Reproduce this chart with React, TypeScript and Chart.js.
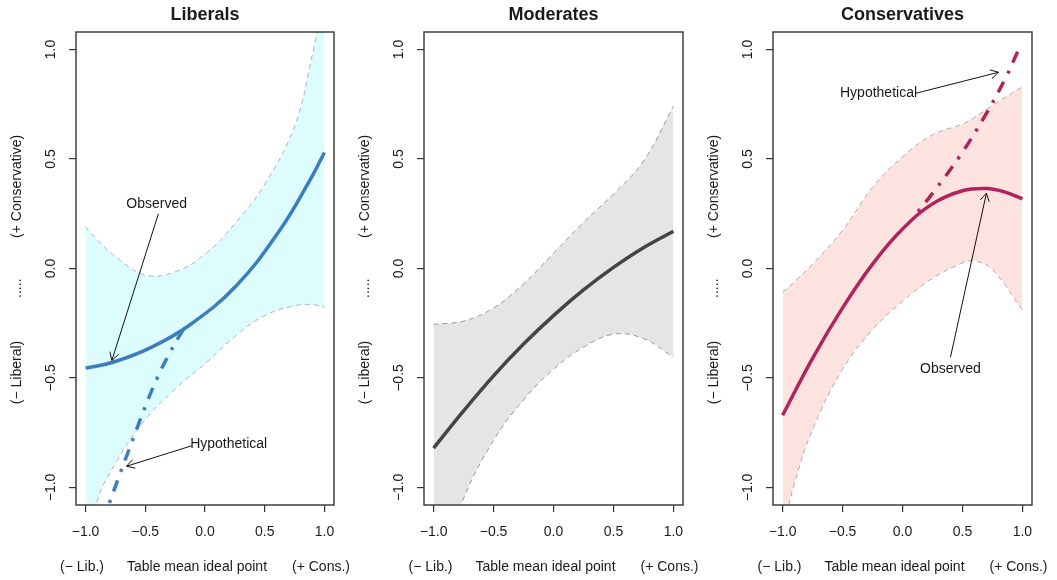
import React, { useEffect, useRef } from "react";
import { Chart, registerables } from "chart.js";

Chart.register(...registerables);

// ---------- axis / labels ----------
const tickValues = [-1, -0.5, 0, 0.5, 1];
const tickLabels = ["−1.0", "−0.5", "0.0", "0.5", "1.0"];
const panelTitles = ["Liberals", "Moderates", "Conservatives"];
const yTitleParts = ["(+ Conservative)", ".....", "(− Liberal)"];
const xTitleParts = ["(− Lib.)", "Table mean ideal point", "(+ Cons.)"];

// ---------- Liberals ----------
const libBandX = [-1, -0.9, -0.75, -0.5, -0.25, 0, 0.25, 0.5, 0.75, 0.9, 1];
const libUpper = [0.19, 0.13, 0.055, -0.03, -0.015, 0.065, 0.205, 0.385, 0.65, 0.98, 1.25];
const libLower = [-1.35, -1.06, -0.89, -0.69, -0.55, -0.435, -0.31, -0.215, -0.17, -0.165, -0.177];
const libObsX = [-1, -0.77, -0.45, -0.128, 0.26, 0.62, 0.875, 1];
const libObs = [-0.455, -0.428, -0.36, -0.258, -0.08, 0.17, 0.4, 0.53];
const libHypX = [-0.8, -0.7, -0.6, -0.5, -0.4, -0.3, -0.2, -0.15];
const libHyp = [-1.07, -0.92, -0.775, -0.63, -0.5, -0.39, -0.295, -0.255];

// ---------- Moderates ----------
const modX = [-1, -0.75, -0.5, -0.25, 0, 0.25, 0.5, 0.75, 1];
const modObs = [-0.82, -0.65, -0.49, -0.345, -0.215, -0.098, 0.005, 0.095, 0.17];
const modUpper = [-0.255, -0.24, -0.18, -0.07, 0.07, 0.21, 0.34, 0.49, 0.74];
const modLower = [-1.45, -1.05, -0.785, -0.6, -0.46, -0.36, -0.3, -0.32, -0.405];

// ---------- Conservatives ----------
const conBandX = [-1, -0.9, -0.75, -0.5, -0.25, 0, 0.25, 0.5, 0.6, 0.75, 1];
const conUpper = [-0.108, -0.06, 0.02, 0.174, 0.37, 0.51, 0.61, 0.66, 0.69, 0.745, 0.83];
const conLower = [-1.2, -0.98, -0.735, -0.46, -0.28, -0.15, -0.045, 0.025, 0.035, -0.005, -0.19];
const conObsX = [-1, -0.75, -0.5, -0.25, 0, 0.25, 0.5, 0.7, 0.85, 1];
const conObs = [-0.67, -0.41, -0.18, 0.02, 0.18, 0.295, 0.355, 0.365, 0.35, 0.318];
const conHypX = [0.13, 0.26, 0.48, 0.68, 0.86, 0.96];
const conHyp = [0.26, 0.35, 0.515, 0.69, 0.87, 0.99];

// ---------- annotations (data coordinates) ----------
const libNoteLabels = ["Observed", "Hypothetical"];
const libNoteX = [-0.405, 0.198];
const libNoteY = [0.292, -0.8];
const libArrowFrom = [[-0.39, 0.25], [-0.114, -0.81]];
const libArrowTo = [[-0.78, -0.42], [-0.657, -0.903]];

const conNoteLabels = ["Hypothetical", "Observed"];
const conNoteX = [-0.2, 0.4];
const conNoteY = [0.8, -0.458];
const conArrowFrom = [[0.11, 0.8], [0.4, -0.405]];
const conArrowTo = [[0.8, 0.896], [0.7, 0.344]];

const FONT = "'Liberation Sans', Arial, Helvetica, sans-serif";

const pts = (xs: number[], ys: number[]) => xs.map((x, i) => ({ x, y: ys[i] }));

type Panel = {
  title: string;
  left: number;
  width: number;
  axisLeft: number;
  padRight: number;
  datasets: any[];
  notes: { label: string; x: number; y: number }[];
  arrows: { from: number[]; to: number[] }[];
};

const band = (xs: number[], lo: number[], up: number[], lowerIndex: number, fillColor: string, dashColor: string) => [
  {
    data: pts(xs, lo),
    borderColor: dashColor,
    borderWidth: 1,
    borderDash: [5, 4],
    fill: false,
    clip: 0,
  },
  {
    data: pts(xs, up),
    borderColor: dashColor,
    borderWidth: 1,
    borderDash: [5, 4],
    backgroundColor: fillColor,
    fill: lowerIndex,
    clip: 0,
  },
];

const solid = (xs: number[], ys: number[], color: string) => ({
  data: pts(xs, ys),
  borderColor: color,
  borderWidth: 3.5,
  fill: false,
  borderCapStyle: "butt",
});

const dotdash = (xs: number[], ys: number[], color: string) => ({
  data: pts(xs, ys),
  borderColor: color,
  borderWidth: 3.5,
  borderDash: [3, 9, 12, 9],
  fill: false,
  borderCapStyle: "butt",
});

const LIB_LINE = "#3c7dbf";
const MOD_LINE = "#444444";
const CON_LINE = "#b0245c";

const panels: Panel[] = [
  {
    title: panelTitles[0],
    left: 0,
    width: 350,
    axisLeft: 76,
    padRight: 16,
    datasets: [
      solid(libObsX, libObs, LIB_LINE),
      dotdash(libHypX, libHyp, LIB_LINE),
      ...band(libBandX, libLower, libUpper, 2, "#dcfcfd", "#a9b3cf"),
    ],
    notes: libNoteLabels.map((label, i) => ({ label, x: libNoteX[i], y: libNoteY[i] })),
    arrows: libArrowFrom.map((from, i) => ({ from, to: libArrowTo[i] })),
  },
  {
    title: panelTitles[1],
    left: 350,
    width: 350,
    axisLeft: 74,
    padRight: 17,
    datasets: [solid(modX, modObs, MOD_LINE), ...band(modX, modLower, modUpper, 1, "#e5e5e5", "#9a9a9a")],
    notes: [],
    arrows: [],
  },
  {
    title: panelTitles[2],
    left: 700,
    width: 357,
    axisLeft: 73,
    padRight: 25,
    datasets: [
      solid(conObsX, conObs, CON_LINE),
      dotdash(conHypX, conHyp, CON_LINE),
      ...band(conBandX, conLower, conUpper, 2, "#fde3df", "#aaaaaa"),
    ],
    notes: conNoteLabels.map((label, i) => ({ label, x: conNoteX[i], y: conNoteY[i] })),
    arrows: conArrowFrom.map((from, i) => ({ from, to: conArrowTo[i] })),
  },
];

function drawArrow(ctx: CanvasRenderingContext2D, x0: number, y0: number, x1: number, y1: number) {
  ctx.beginPath();
  ctx.moveTo(x0, y0);
  ctx.lineTo(x1, y1);
  ctx.stroke();
  const ang = Math.atan2(y1 - y0, x1 - x0);
  const len = 9;
  const spread = Math.PI / 6;
  ctx.beginPath();
  ctx.moveTo(x1 - len * Math.cos(ang - spread), y1 - len * Math.sin(ang - spread));
  ctx.lineTo(x1, y1);
  ctx.lineTo(x1 - len * Math.cos(ang + spread), y1 - len * Math.sin(ang + spread));
  ctx.stroke();
}

function makeDecor(panel: Panel) {
  return {
    id: "decor",
    afterDraw(chart: any) {
      const ctx: CanvasRenderingContext2D = chart.ctx;
      const area = chart.chartArea;
      const xs = chart.scales.x;
      const ys = chart.scales.y;
      ctx.save();
      // box
      ctx.strokeStyle = "#333";
      ctx.lineWidth = 1.4;
      ctx.strokeRect(area.left, area.top, area.right - area.left, area.bottom - area.top);

      ctx.fillStyle = "#1a1a1a";
      // title
      ctx.font = `bold 18px ${FONT}`;
      ctx.textAlign = "center";
      ctx.textBaseline = "middle";
      ctx.fillText(panel.title, (area.left + area.right) / 2, 15);

      // x tick labels
      ctx.font = `14px ${FONT}`;
      tickValues.forEach((v, i) => {
        ctx.fillText(tickLabels[i], xs.getPixelForValue(v), 532);
      });
      // y tick labels (rotated)
      tickValues.forEach((v, i) => {
        ctx.save();
        ctx.translate(area.left - 25, ys.getPixelForValue(v));
        ctx.rotate(-Math.PI / 2);
        ctx.fillText(tickLabels[i], 0, 0);
        ctx.restore();
      });
      // y title pieces
      const yTitleVals = [0.375, -0.09, -0.475];
      yTitleParts.forEach((t, i) => {
        ctx.save();
        ctx.translate(area.left - 59, ys.getPixelForValue(yTitleVals[i]));
        ctx.rotate(-Math.PI / 2);
        ctx.fillText(t, 0, 0);
        ctx.restore();
      });
      // x title pieces
      const x0 = xs.getPixelForValue(0);
      const xOffsets = [-123, -8, 116];
      xTitleParts.forEach((t, i) => {
        ctx.fillText(t, x0 + xOffsets[i], 567);
      });

      // annotations
      panel.notes.forEach((n) => {
        ctx.fillText(n.label, xs.getPixelForValue(n.x), ys.getPixelForValue(n.y));
      });
      ctx.strokeStyle = "#111";
      ctx.lineWidth = 1;
      panel.arrows.forEach((a) => {
        drawArrow(
          ctx,
          xs.getPixelForValue(a.from[0]),
          ys.getPixelForValue(a.from[1]),
          xs.getPixelForValue(a.to[0]),
          ys.getPixelForValue(a.to[1])
        );
      });
      ctx.restore();
    },
  };
}

function PanelChart({ panel }: { panel: Panel }) {
  const ref = useRef<HTMLCanvasElement>(null);
  useEffect(() => {
    if (!ref.current) return;
    const axisCommon = {
      type: "linear" as const,
      min: -1.08,
      max: 1.08,
      afterBuildTicks: (s: any) => {
        s.ticks = tickValues.map((v) => ({ value: v }));
      },
      ticks: { display: false },
      grid: { drawOnChartArea: false, drawTicks: true, tickLength: 7, color: "#333", lineWidth: 1.2 },
      border: { display: false },
    };
    const chart = new Chart(ref.current, {
      type: "line",
      data: { datasets: panel.datasets as any },
      options: {
        animation: false,
        responsive: false,
        layout: { padding: { left: 0, right: panel.padRight, top: 32, bottom: 0 } },
        plugins: { legend: { display: false }, tooltip: { enabled: false }, title: { display: false } },
        elements: { point: { radius: 0 }, line: { tension: 0.4 } },
        scales: {
          x: {
            ...axisCommon,
            afterFit: (s: any) => {
              s.height = 75;
            },
          },
          y: {
            ...axisCommon,
            afterFit: (s: any) => {
              s.width = panel.axisLeft;
            },
          },
        } as any,
      },
      plugins: [makeDecor(panel)],
    });
    return () => chart.destroy();
  }, []);
  return (
    <canvas
      ref={ref}
      width={panel.width}
      height={580}
      style={{ position: "absolute", left: panel.left, top: 0, width: panel.width, height: 580 }}
    />
  );
}

export default function App() {
  useEffect(() => {
    document.body.style.margin = "0";
  }, []);
  return (
    <div style={{ position: "relative", width: 1057, height: 580, background: "#fff", overflow: "hidden" }}>
      {panels.map((p) => (
        <PanelChart key={p.title} panel={p} />
      ))}
    </div>
  );
}
